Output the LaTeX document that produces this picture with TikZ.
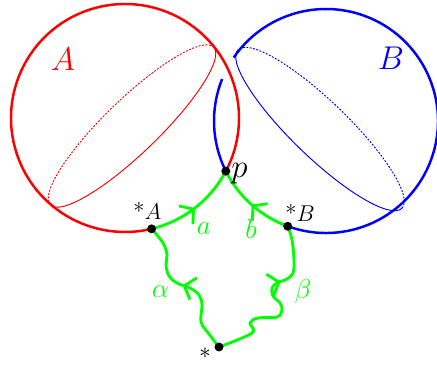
\documentclass[tikz,border=0pt]{standalone}
\usepackage{amsmath,amssymb}
\usepackage{tikz}
\usetikzlibrary{arrows.meta,positioning,calc,decorations.markings}

\begin{document}
\begin{tikzpicture}[x=0.525pt, y=0.525pt,
    sphere/.style={line width=1.3pt},
    rim/.style={line width=0.5pt},
    hidden/.style={line width=0.5pt, dash pattern=on 1pt off 0.8pt},
    gpath/.style={green, line width=1.5pt, line cap=round},
    midarrow/.style={postaction={decorate}, decoration={markings, mark=at position #1 with {\arrow{Straight Barb[length=5pt,width=12pt]}}}},
    dot/.style={circle, fill=black, inner sep=0pt, minimum size=4.7pt},
    lbl/.style={inner sep=0pt, font=\Large}
]
    \useasboundingbox (0,0) rectangle (437,365);

    % Centres and base points
    \coordinate (cA) at (125,247);
    \coordinate (cB) at (326,244);
    \coordinate (p) at ($(cA)+(-27.8:114)$);
    \coordinate (sA) at ($(cA)+(-76.5:114)$);
    \coordinate (sB) at ($(cB)+(250:112)$);
    \coordinate (bgap) at ($(cB)+(158:112)$);
    \coordinate (base) at (219,18);

    % Sphere A
    \draw[red, sphere] (p) arc[start angle=-27.8, end angle=283.5, radius=114];
    \draw[red, rim, shift={(132,239)}, rotate=44] (113.5,0) arc[start angle=0, end angle=-180, x radius=113.5, y radius=27];
    \draw[red, hidden, shift={(132,239)}, rotate=44] (113.5,0) arc[start angle=0, end angle=180, x radius=113.5, y radius=27];

    % Sphere B
    \draw[blue, sphere] (sB) arc[start angle=250, end angle=505.5, radius=112];
    \draw[blue, sphere] (bgap) arc[start angle=158, end angle=206.6, radius=112];
    \draw[blue, rim, shift={(320,236)}, rotate=-44] (114,0) arc[start angle=0, end angle=-180, x radius=114, y radius=28];
    \draw[blue, hidden, shift={(320,236)}, rotate=-44] (114,0) arc[start angle=0, end angle=180, x radius=114, y radius=28];

    % Loops
    \draw[gpath, midarrow=0.5] (sA) arc[start angle=-76.5, end angle=-27.8, radius=114];
    \draw[gpath, midarrow=0.5] (sB) arc[start angle=250, end angle=206.6, radius=112];
    \draw[gpath, midarrow=0.53] plot[smooth, tension=0.6] coordinates {(base) (209,31) (201,43) (202,60) (199,70) (190,77) (177,82) (169,89) (166,100) (167,110) (163,122) (sA)};
    \draw[gpath, midarrow=0.66] plot[smooth, tension=0.6] coordinates {(base) (252,32) (250,42) (258,47) (277,48) (282,55) (280,62) (273,69) (272,77) (277,82) (287,86) (293,92) (294,105) (292,125) (sB)};

    % Points
    \node[dot] (dp) at (p) {};
    \node[dot] (dsA) at (sA) {};
    \node[dot] (dsB) at (sB) {};
    \node[dot] (dbase) at (base) {};

    % Labels
    \node[lbl, red, font=\LARGE] (labA) at (63,306) {$A$};
    \node[lbl, blue, font=\LARGE] (labB) at (391,307) {$B$};
    \node[lbl, font=\LARGE, anchor=base west] (labp) at (231,188) {$p$};
    \node[lbl, font=\large, anchor=base west] (labsA) at (133,145) {*$A$};
    \node[lbl, font=\large, anchor=base west] (labsB) at (285,143) {*$B$};
    \node[lbl, font=\large] (labbase) at (205,12) {$\ast$};
    \node[lbl, green] (laba) at (204,136) {$a$};
    \node[lbl, green] (labb) at (251,136) {$b$};
    \node[lbl, green] (labal) at (160.5,73.5) {$\alpha$};
    \node[lbl, green] (labbe) at (303,73.5) {$\beta$};
\end{tikzpicture}
\end{document}
